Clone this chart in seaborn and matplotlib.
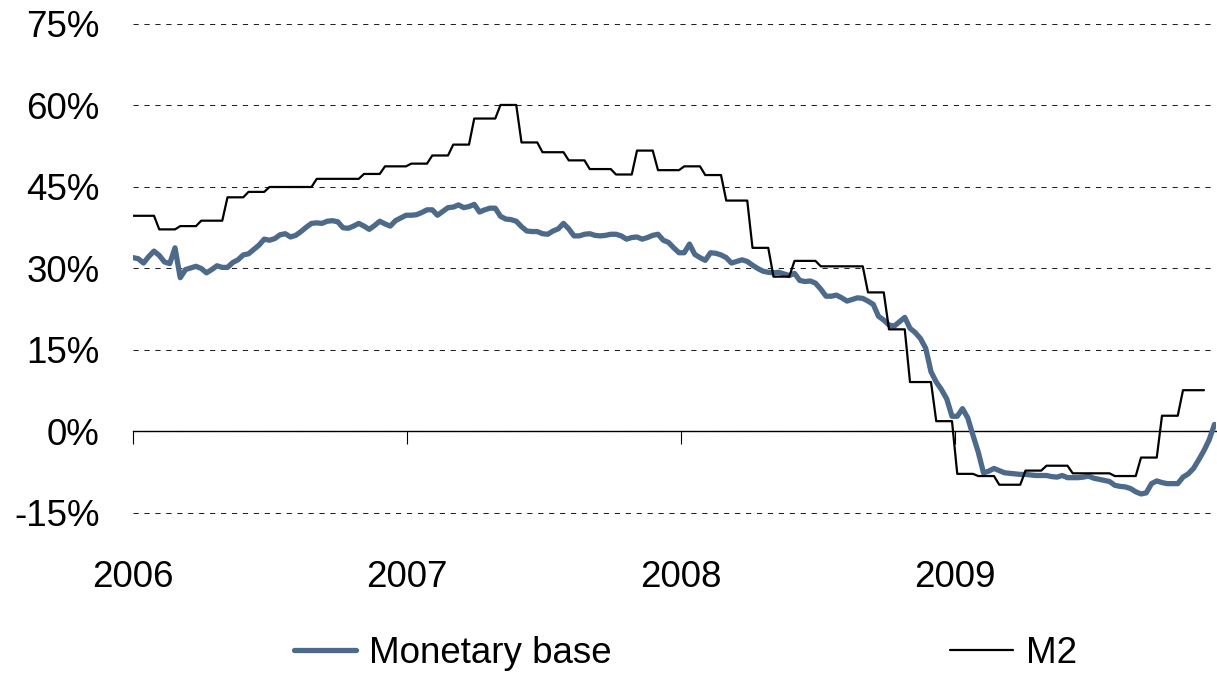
import numpy as np
import pandas as pd
import matplotlib
matplotlib.use('Agg')
import matplotlib.pyplot as plt
import matplotlib.dates as mdates
import seaborn as sns

# weekly y/y growth of the monetary base (%), first week of 2006 to mid Dec 2009
base_growth = [
    32.0, 31.8, 31.0, 32.2, 33.2, 32.4, 31.2, 30.9, 33.8, 28.3,
    29.8, 30.1, 30.4, 30.0, 29.2, 29.8, 30.5, 30.2, 30.2, 31.1,
    31.6, 32.5, 32.7, 33.5, 34.3, 35.4, 35.2, 35.5, 36.2, 36.4,
    35.8, 36.1, 36.8, 37.6, 38.3, 38.4, 38.3, 38.7, 38.8, 38.6,
    37.5, 37.4, 37.8, 38.3, 37.8, 37.2, 37.9, 38.7, 38.2, 37.8,
    38.8, 39.3, 39.8, 39.8, 39.9, 40.3, 40.8, 40.8, 39.8, 40.5,
    41.2, 41.3, 41.7, 41.2, 41.4, 41.8, 40.4, 40.8, 41.1, 41.1,
    39.6, 39.1, 39.0, 38.7, 37.7, 36.9, 36.8, 36.8, 36.4, 36.3,
    36.9, 37.3, 38.3, 37.3, 36.0, 36.0, 36.3, 36.4, 36.1, 36.0,
    36.1, 36.3, 36.3, 36.0, 35.4, 35.7, 35.8, 35.4, 35.7, 36.1,
    36.3, 35.2, 34.8, 33.8, 32.9, 32.9, 34.5, 32.6, 32.0, 31.5,
    32.9, 32.8, 32.5, 32.0, 31.0, 31.3, 31.6, 31.3, 30.6, 30.0,
    29.5, 29.3, 29.2, 29.3, 29.0, 28.7, 29.1, 27.8, 27.6, 27.7,
    27.3, 26.2, 24.9, 24.9, 25.1, 24.6, 24.0, 24.3, 24.6, 24.5,
    24.0, 23.4, 21.2, 20.5, 19.6, 19.4, 20.2, 21.0, 19.0, 18.2,
    17.1, 15.3, 11.0, 9.1, 7.7, 6.0, 2.8, 2.8, 4.2, 2.5,
    -0.7, -3.8, -7.6, -7.3, -6.8, -7.2, -7.6, -7.7, -7.8, -7.9,
    -7.9, -8.0, -8.1, -8.1, -8.1, -8.3, -8.4, -8.1, -8.5, -8.5,
    -8.5, -8.4, -8.2, -8.6, -8.8, -9.0, -9.2, -9.9, -10.1, -10.2,
    -10.5, -11.1, -11.5, -11.3, -9.6, -9.1, -9.4, -9.6, -9.6, -9.6,
    -8.4, -7.8, -6.8, -5.2, -3.5, -1.5, 1.3,
]

# monthly y/y growth of M2 (%), Jan 2006 - Nov 2009
m2_growth = [
    39.7, 37.2, 37.8, 38.8, 43.1, 44.1, 45.0, 45.0, 46.5, 46.5, 47.4, 48.8,
    49.3, 50.8, 52.8, 57.6, 60.1, 53.2, 51.4, 49.9, 48.3, 47.3, 51.7, 48.1,
    48.8, 47.2, 42.5, 33.8, 28.5, 31.4, 30.4, 30.4, 25.6, 18.8, 9.1, 1.9,
    -7.8, -8.2, -9.8, -7.2, -6.3, -7.7, -7.7, -8.2, -4.8, 2.9, 7.6,
]

years = [2006, 2007, 2008, 2009]
y_ticks = [-15, 0, 15, 30, 45, 60, 75]

weeks = pd.date_range('2006-01-01', periods=len(base_growth), freq='7D')
m2_months = pd.date_range('2006-01-01', periods=len(m2_growth), freq='MS')
# monthly M2 shown on the weekly axis (value carried through the month)
m2_weekly = pd.Series(m2_growth, index=m2_months).reindex(weeks, method='ffill')
m2_weekly[weeks >= m2_months[-1] + pd.offsets.MonthBegin(1)] = np.nan

df = pd.DataFrame({'date': weeks, 'Monetary base': base_growth, 'M2': m2_weekly.values})

sns.set_style('white')
plt.rcParams['font.family'] = ['Liberation Sans', 'DejaVu Sans']
plt.rcParams['text.color'] = 'black'
fs = 26.5

fig = plt.figure(figsize=(12.17, 6.75), dpi=100)
# plot area: 75% at y=24px, -15.5% at y~516px
ax = fig.add_axes([133 / 1217, 1 - 515.7 / 675, (1216 - 133) / 1217, (515.7 - 24) / 675])

sns.lineplot(data=df, x='date', y='Monetary base', ax=ax, color='#4E6A8A', lw=3.8,
             label='Monetary base', zorder=3)
sns.lineplot(data=df, x='date', y='M2', ax=ax, color='black', lw=1.6, label='M2', zorder=4)

ax.set_ylim(-15.5, 75)
ax.set_xlim(pd.Timestamp('2006-01-01'), pd.Timestamp('2009-12-15'))
ax.set_yticks(y_ticks)
ax.set_yticklabels([f'{v}%' for v in y_ticks], fontsize=fs, color='black')
ax.tick_params(axis='y', length=0, pad=24, labelcolor='black')
ax.yaxis.grid(True, color='#222222', lw=0.75, linestyle=(0, (5, 5.5)))
ax.xaxis.grid(False)
ax.set_xlabel('')
ax.set_ylabel('')

for s in ['top', 'right', 'left']:
    ax.spines[s].set_visible(False)
ax.spines['bottom'].set_position(('data', 0))
ax.spines['bottom'].set_color('black')
ax.spines['bottom'].set_linewidth(1.0)
ax.spines['bottom'].set_zorder(2)

year_pos = mdates.date2num([pd.Timestamp(f'{y}-01-01') for y in years])
ax.set_xticks(year_pos)
ax.set_xticklabels([])
ax.tick_params(axis='x', direction='out', length=9, width=0.8, color='black', bottom=True)

sec = ax.secondary_xaxis(0)
sec.set_xticks(year_pos)
sec.set_xticklabels([str(y) for y in years], fontsize=fs, color='black')
sec.tick_params(axis='x', length=0, pad=32, labelcolor='black')
sec.spines['bottom'].set_visible(False)

handles, labels = ax.get_legend_handles_labels()
ax.get_legend().remove()
leg = fig.legend(handles, labels, loc='center', bbox_to_anchor=(0.563, 0.032), ncol=2,
                 frameon=False, fontsize=fs, handlelength=1.7, handletextpad=0.35,
                 columnspacing=9.2)
for t in leg.get_texts():
    t.set_color('black')

fig.savefig('out.png', dpi=100)
